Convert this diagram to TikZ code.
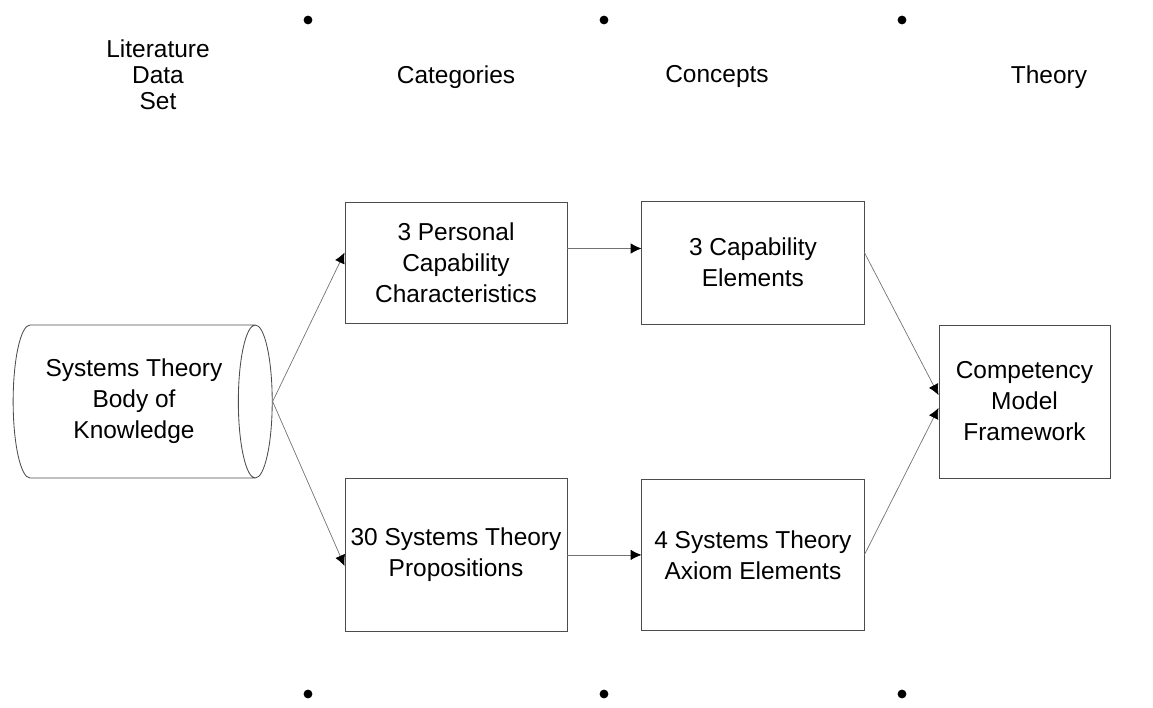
\documentclass[tikz,border=0pt]{standalone}
\usepackage{fontspec}
\setmainfont{Liberation Sans}
\usetikzlibrary{arrows.meta,shapes.geometric,positioning}
\tikzset{%
    >={Latex[length=2.7mm,width=2.6mm,color=black]},
    box/.style={draw=black!70,line width=.6pt,align=center,inner sep=0pt,minimum width=5.55cm},
    head/.style={align=center,font=\fontsize{17.4}{18.6}\selectfont},
    store/.style={cylinder,draw=black!70,line width=.6pt,align=center,aspect=.4,
        minimum height=6.475cm,minimum width=3.825cm,inner sep=0pt},
    flow/.style={->,draw=black!55,line width=.5pt},
    dot/.style={circle,fill=black,inner sep=0pt,minimum size=2.2mm}
}

\begin{document}
\begin{tikzpicture}[x=0.025cm,y=-0.025cm,node distance=1.85cm,
    every node/.style={font=\fontsize{17.4}{22}\selectfont}]
    \useasboundingbox (0,0) rectangle (1153,708);
    % column heads
    \node [head] (lit) at (158,75) {Literature\\Data\\Set};
    \node [head] (cat) at (456,77) {Categories};
    \node [head] (con) at (717,77) {Concepts};
    \node [head] (thy) at (1049,77) {Theory};
    \foreach \i/\x in {1/308,2/604,3/902} {
        \node [dot] (dt-\i) at (\x,20) {};
        \node [dot] (db-\i) at (\x,694) {};
    }
    %%%%%
    \node [store] (bok) at (134,401.5) {Systems Theory\\Body of\\Knowledge};
    \node [box,minimum height=3.025cm] (cat1) at (456,262.5) {3 Personal\\Capability\\Characteristics};
    \node [box,minimum height=3.8cm,below=3.875cm of cat1] (cat2) {30 Systems Theory\\Propositions};
    \node [box,minimum height=3.075cm,right=of cat1] (con1) {3 Capability\\Elements};
    \node [box,minimum height=3.75cm,right=of cat2] (con2) {4 Systems Theory\\Axiom Elements};
    \node [box,minimum width=4.275cm,minimum height=3.825cm] (fw) at (1024.5,401.5) {Competency\\Model\\Framework};
    %%%%%
    \draw [flow] (bok.east) -- ([yshift=.25cm]cat1.west);
    \draw [flow] (bok.east) -- ([yshift=-.275cm]cat2.west);
    \draw [flow] ([yshift=.35cm]cat1.east) -- ([yshift=.35cm]con1.west);
    \draw [flow] (cat2) -- (con2);
    \draw [flow] ([yshift=.25cm]con1.east) -- ([yshift=.16cm]fw.west);
    \draw [flow] (con2.east) -- ([yshift=-.16cm]fw.west);
\end{tikzpicture}
\end{document}
